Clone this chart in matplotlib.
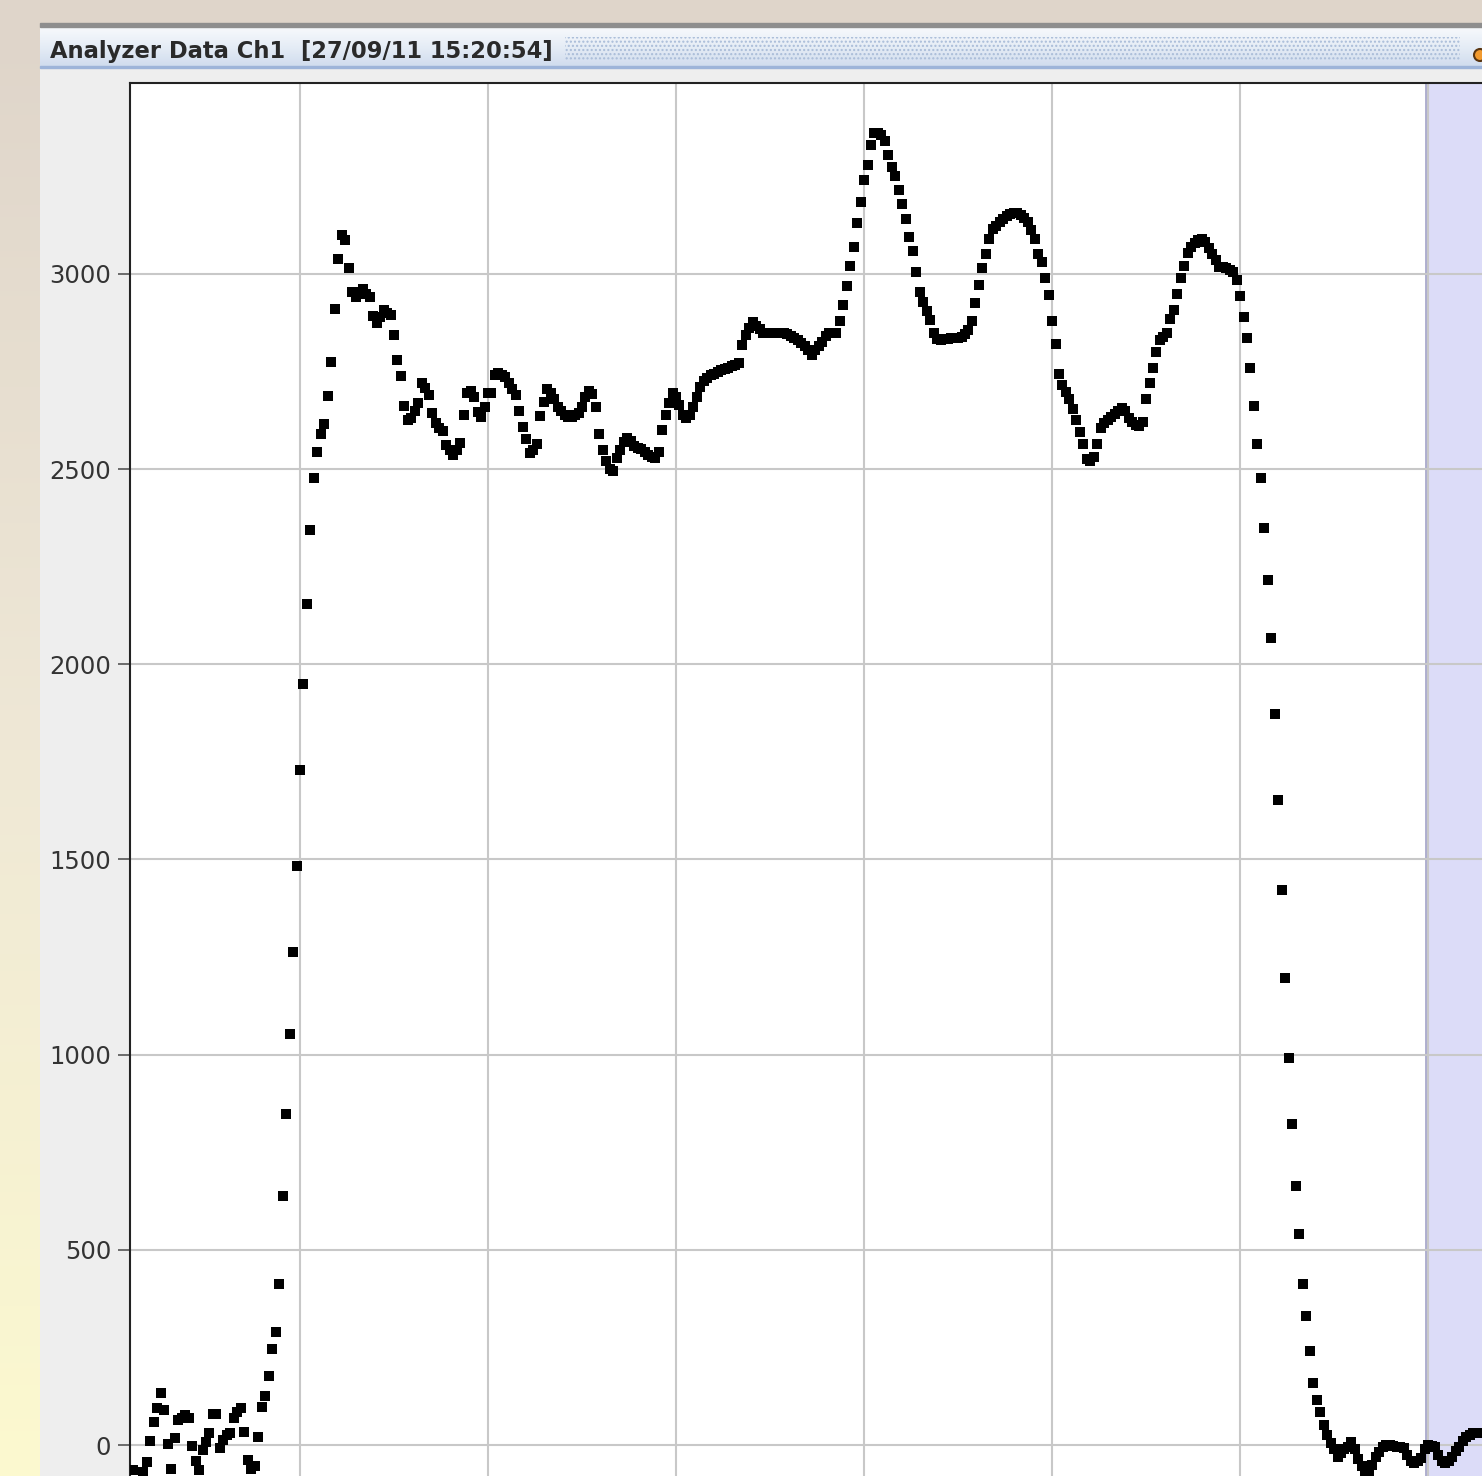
import numpy as np
import matplotlib.pyplot as plt
from matplotlib.patches import Rectangle, Circle
from matplotlib.colors import LinearSegmentedColormap

# --- data ---
title_text = 'Analyzer Data Ch1  [27/09/11 15:20:54]'
y_ticks = [0, 500, 1000, 1500, 2000, 2500, 3000]
grid_samples = [54, 108, 162, 216, 270, 324, 378]   # vertical grid lines (sample index)
marker_start = 377.3                               # start of the shaded (lavender) region
sample_start = 6
signal = [
    -64, -110, -100, -70, -44, 10, 60, 95, 133, 90,
    3, -61, 18, 64, 70, 77, 69, -2, -40, -64,
    -13, 8, 31, 79, 79, -8, 13, 25, 31, 69,
    85, 95, 33, -38, -61, -55, 20, 97, 125, 177,
    246, 290, 412, 638, 848, 1053, 1263, 1483, 1729, 1950,
    2155, 2344, 2477, 2544, 2590, 2616, 2688, 2775, 2910, 3039,
    3100, 3087, 3015, 2954, 2941, 2955, 2962, 2949, 2941, 2892,
    2874, 2890, 2908, 2900, 2895, 2844, 2780, 2739, 2662, 2626,
    2631, 2650, 2670, 2721, 2708, 2690, 2644, 2618, 2605, 2597,
    2562, 2549, 2536, 2549, 2567, 2639, 2695, 2700, 2685, 2646,
    2634, 2660, 2695, 2695, 2741, 2746, 2742, 2736, 2720, 2705,
    2690, 2650, 2608, 2578, 2541, 2550, 2565, 2636, 2672, 2705,
    2695, 2680, 2660, 2648, 2640, 2634, 2634, 2640, 2645, 2659,
    2685, 2700, 2693, 2660, 2590, 2548, 2522, 2500, 2495, 2528,
    2550, 2570, 2580, 2572, 2560, 2555, 2551, 2545, 2535, 2530,
    2528, 2545, 2600, 2640, 2670, 2695, 2685, 2665, 2640, 2630,
    2640, 2660, 2685, 2710, 2725, 2734, 2740, 2745, 2750, 2755,
    2757, 2760, 2764, 2767, 2772, 2818, 2844, 2862, 2877, 2866,
    2858, 2849, 2849, 2849, 2849, 2849, 2849, 2848, 2845, 2842,
    2836, 2831, 2822, 2815, 2806, 2793, 2805, 2815, 2826, 2840,
    2849, 2849, 2849, 2880, 2920, 2970, 3020, 3070, 3130, 3185,
    3240, 3280, 3330, 3361, 3361, 3355, 3340, 3305, 3275, 3250,
    3215, 3180, 3140, 3095, 3058, 3005, 2955, 2928, 2905, 2882,
    2849, 2834, 2831, 2833, 2834, 2836, 2836, 2836, 2838, 2845,
    2857, 2880, 2925, 2972, 3015, 3050, 3090, 3115, 3124, 3134,
    3142, 3148, 3154, 3156, 3156, 3150, 3143, 3132, 3112, 3090,
    3052, 3030, 2990, 2945, 2880, 2820, 2745, 2715, 2698, 2680,
    2655, 2625, 2595, 2565, 2525, 2520, 2531, 2565, 2605, 2618,
    2626, 2634, 2642, 2650, 2657, 2650, 2632, 2622, 2612, 2610,
    2622, 2680, 2720, 2759, 2800, 2831, 2839, 2850, 2885, 2908,
    2949, 2990, 3020, 3054, 3069, 3080, 3088, 3090, 3082, 3067,
    3050, 3036, 3018, 3018, 3015, 3011, 3005, 2985, 2944, 2890,
    2835, 2760, 2662, 2565, 2477, 2349, 2216, 2068, 1873, 1652,
    1422, 1196, 991, 822, 663, 540, 412, 330, 240, 160,
    115, 85, 50, 25, 5, -10, -31, -20, -10, -5,
    8, -10, -35, -55, -75, -69, -50, -30, -18, -5,
    0, 0, -3, -5, -6, -8, -25, -40, -46, -40,
    -33, -10, 0, -3, -5, -25, -40, -46, -40, -31,
    -15, -5, 10, 20, 26, 30, 31, 30,
]
samples = np.arange(sample_start, sample_start + len(signal))

W, H = 1482, 1476
fig = plt.figure(figsize=(W / 100, H / 100), dpi=100)

# window chrome drawn in pixel coordinates
bg = fig.add_axes([0, 0, 1, 1], zorder=0)
bg.add_patch(Rectangle((0, 0), W, H, color='#eeeeee', zorder=0.1))
bg.add_patch(Rectangle((0, 0), W, 24, color='#dfd5ca', zorder=0.2))
grad = np.linspace(0, 1, 256)[:, None]
left_cmap = LinearSegmentedColormap.from_list('left', ['#dfd5ca', '#efe8d6', '#fcf9cf'])
bg.imshow(grad, cmap=left_cmap, extent=(0, 40, H, 24), aspect='auto', zorder=0.3)
bar_cmap = LinearSegmentedColormap.from_list('bar', ['#f7f9fc', '#e6edf6', '#d0dcee'])
bg.imshow(grad, cmap=bar_cmap, extent=(40, W, 66, 27), aspect='auto', zorder=0.3)
bg.add_patch(Rectangle((40, 23), W - 40, 4, color='#8e8e8e', zorder=0.4))
bg.add_patch(Rectangle((40, 66), W - 40, 2, color='#9db4d9', zorder=0.4))
bg.add_patch(Rectangle((565, 37), 895, 24, facecolor='none', edgecolor='#a9bcd8',
                       hatch='....', lw=0, zorder=0.5))
bg.add_patch(Circle((1480, 55), 6, facecolor='#f29a2e', edgecolor='#5a3510', lw=1.5, zorder=0.6))
bg.set_xlim(0, W)
bg.set_ylim(H, 0)
bg.axis('off')

fig.text(50 / W, 1 - 58 / H, title_text, fontsize=16.3, fontweight='bold', color='#2a2a2a',
         ha='left', va='baseline')

# plot area
ax = fig.add_axes([130 / W, 0, (W - 130) / W, (H - 83) / H], zorder=1)
ax.set_facecolor('white')
ax.axvspan(marker_start, 400, color='#dcdcf8', lw=0, zorder=0.2)
ax.axvline(marker_start, color='#a9a9cc', lw=1.3, zorder=0.3)
ax.plot(samples, signal, 's', color='black', ms=6.8, mew=0, zorder=3)

ax.set_xlim(5.17, 393.5)
ax.set_ylim(-79.4, 3489.3)
ax.set_xticks(grid_samples)
ax.set_yticks(y_ticks)
ax.set_axisbelow(True)
ax.grid(True, color='#c8c8c8', lw=1.5)
ax.tick_params(axis='x', length=0, labelbottom=False)
ax.tick_params(axis='y', length=8.6, width=1.2, color='#555555',
               labelsize=17.5, labelcolor='#333333', pad=5)
for side in ['right', 'bottom']:
    ax.spines[side].set_visible(False)
for side in ['left', 'top']:
    ax.spines[side].set_color('#222222')
    ax.spines[side].set_linewidth(1.5)

plt.savefig('out.png', dpi=100)
